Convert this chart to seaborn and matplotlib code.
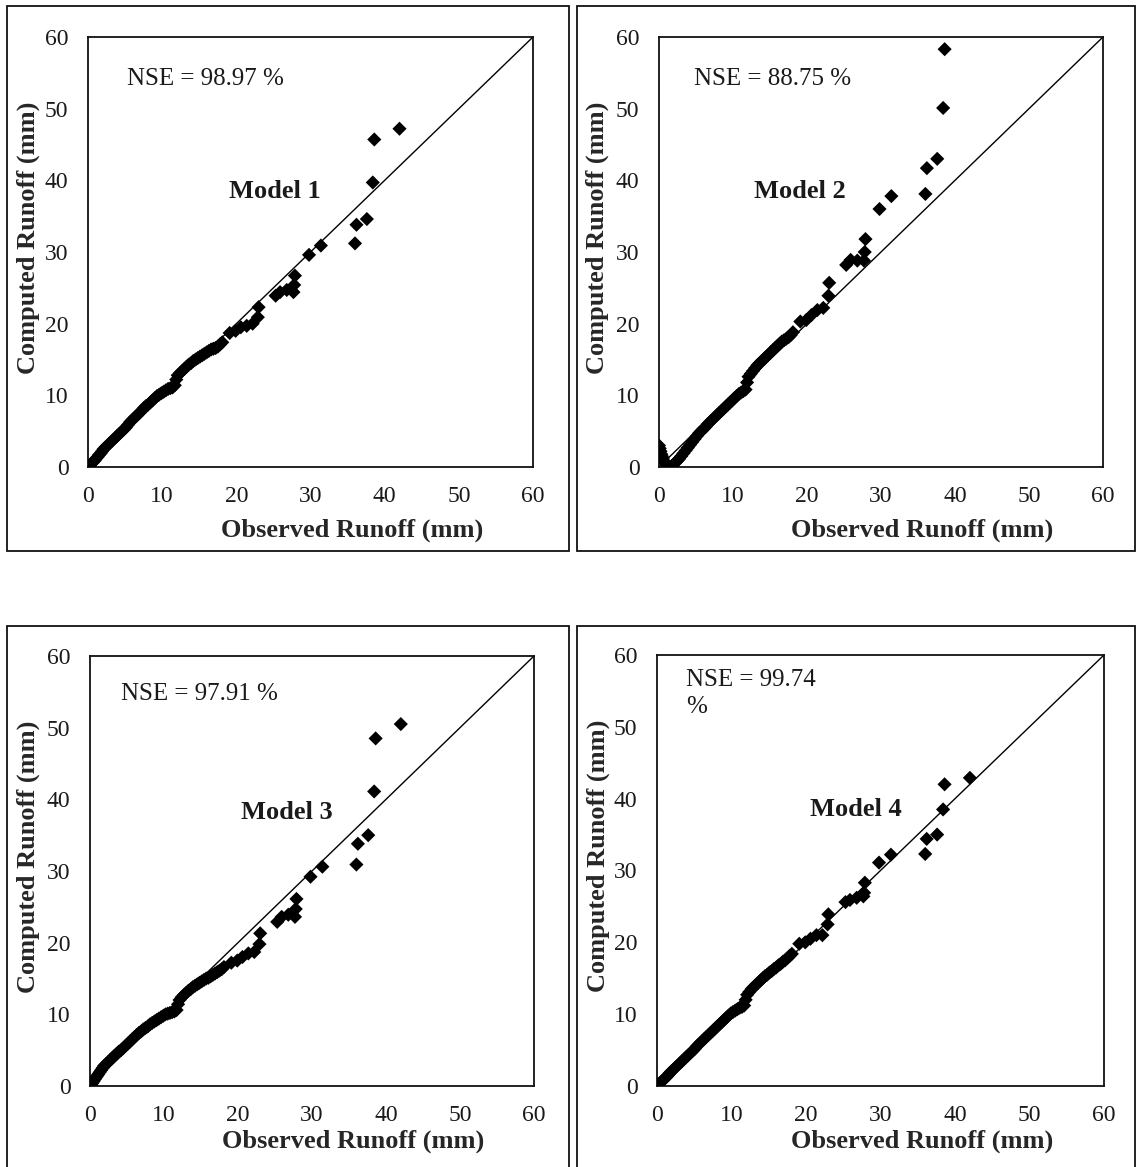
import numpy as np
import pandas as pd
import matplotlib
matplotlib.use("Agg")
import matplotlib.pyplot as plt
from matplotlib.patches import Rectangle
import seaborn as sns

# Observed runoff events (mm), shared by all four models
observed = [
    0.0, 0.1, 0.2, 0.3, 0.4, 0.5, 0.7, 0.9, 1.1, 1.3, 1.5, 1.7, 1.9, 2.1, 2.4, 2.7,
    3.0, 3.3, 3.6, 3.9, 4.2, 4.5, 4.8, 5.1, 5.4, 5.7, 6.0, 6.3, 6.6, 6.9, 7.2, 7.5,
    7.8, 8.1, 8.4, 8.7, 9.0, 9.3, 9.6, 9.9, 10.2, 10.5, 10.8, 11.1, 11.4, 11.7, 11.9,
    12.1, 12.4, 12.7, 13.0, 13.3, 13.6, 13.9, 14.2, 14.5, 14.8, 15.1, 15.4, 15.7,
    16.0, 16.3, 16.6, 16.9, 17.2, 17.5, 17.8, 18.1,
    19.1, 19.9, 20.6, 21.4, 22.2, 22.9, 23.0, 25.3, 25.9, 26.8, 27.7, 27.8, 27.9,
    29.8, 31.4, 36.0, 36.2, 37.6, 38.4, 38.6, 42.0,
]

# Computed runoff (mm) for each model, in the same event order
model1 = [
    0.0, 0.1, 0.2, 0.3, 0.4, 0.5, 0.7, 0.9, 1.2, 1.4, 1.7, 1.9, 2.2, 2.5, 2.8, 3.1,
    3.4, 3.7, 4.0, 4.3, 4.6, 4.9, 5.2, 5.5, 5.9, 6.3, 6.6, 6.9, 7.2, 7.5, 7.8, 8.2,
    8.5, 8.7, 9.0, 9.3, 9.6, 9.9, 10.1, 10.3, 10.5, 10.7, 10.9, 11.0, 11.1, 11.4, 12.2,
    12.8, 13.1, 13.4, 13.7, 14.0, 14.3, 14.5, 14.8, 15.0, 15.2, 15.4, 15.6, 15.8,
    16.0, 16.2, 16.4, 16.5, 16.6, 16.8, 17.1, 17.4,
    18.7, 19.0, 19.5, 19.7, 20.0, 20.9, 22.3, 23.9, 24.4, 24.7, 24.4, 25.4, 26.7,
    29.6, 30.9, 31.2, 33.8, 34.6, 39.7, 45.7, 47.2,
]
model2 = [
    3.0, 2.6, 2.2, 1.8, 1.5, 1.2, 0.8, 0.5, 0.2, 0.05, 0.0, 0.1, 0.3, 0.5, 0.8, 1.1,
    1.5, 1.9, 2.3, 2.7, 3.1, 3.5, 3.9, 4.3, 4.7, 5.0, 5.3, 5.6, 6.0, 6.3, 6.6, 6.9,
    7.2, 7.5, 7.8, 8.1, 8.4, 8.7, 9.0, 9.3, 9.6, 9.9, 10.2, 10.4, 10.6, 10.8, 11.8,
    12.6, 13.0, 13.4, 13.8, 14.2, 14.5, 14.8, 15.1, 15.4, 15.7, 16.0, 16.3, 16.6,
    16.9, 17.2, 17.5, 17.7, 17.9, 18.1, 18.4, 18.8,
    20.3, 20.5, 21.2, 21.9, 22.2, 23.9, 25.7, 28.2, 28.9, 28.8, 28.8, 30.0, 31.8,
    36.0, 37.8, 38.1, 41.7, 43.0, 50.1, 58.3, 62.5,
]
model3 = [
    0.0, 0.1, 0.3, 0.4, 0.6, 0.7, 1.0, 1.3, 1.6, 1.9, 2.2, 2.5, 2.8, 3.0, 3.3, 3.6,
    3.9, 4.2, 4.5, 4.8, 5.0, 5.3, 5.6, 5.9, 6.2, 6.5, 6.8, 7.1, 7.4, 7.6, 7.9, 8.1,
    8.3, 8.6, 8.8, 9.0, 9.2, 9.4, 9.6, 9.8, 10.0, 10.1, 10.2, 10.3, 10.4, 10.6, 11.4,
    12.0, 12.4, 12.7, 13.0, 13.3, 13.5, 13.8, 14.0, 14.2, 14.4, 14.6, 14.8, 15.0,
    15.1, 15.3, 15.5, 15.7, 15.9, 16.1, 16.3, 16.6,
    17.2, 17.5, 18.0, 18.5, 18.7, 19.8, 21.3, 22.9, 23.6, 23.9, 23.6, 24.7, 26.1,
    29.2, 30.6, 30.9, 33.8, 35.0, 41.1, 48.5, 50.5,
]
model4 = [
    0.0, 0.1, 0.2, 0.3, 0.4, 0.5, 0.7, 0.9, 1.1, 1.3, 1.5, 1.8, 2.0, 2.2, 2.5, 2.8,
    3.1, 3.4, 3.7, 4.0, 4.3, 4.6, 4.9, 5.2, 5.6, 5.9, 6.2, 6.5, 6.8, 7.1, 7.4, 7.7,
    8.0, 8.3, 8.6, 8.9, 9.2, 9.5, 9.8, 10.1, 10.3, 10.5, 10.7, 10.9, 11.0, 11.2, 12.0,
    12.7, 13.1, 13.5, 13.8, 14.1, 14.4, 14.7, 15.0, 15.3, 15.5, 15.8, 16.0, 16.3,
    16.5, 16.8, 17.0, 17.3, 17.5, 17.8, 18.1, 18.4,
    19.8, 20.0, 20.5, 21.0, 21.0, 22.5, 23.9, 25.6, 25.9, 26.2, 26.4, 26.9, 28.3,
    31.1, 32.2, 32.3, 34.4, 35.0, 38.5, 42.0, 42.9,
]

model_names = ["Model 1", "Model 2", "Model 3", "Model 4"]
nse_labels = ["NSE = 98.97 %", "NSE = 88.75 %", "NSE = 97.91 %", "NSE = 99.74\n%"]
tick_values = [0, 10, 20, 30, 40, 50, 60]

frames = []
for name, comp in zip(model_names, [model1, model2, model3, model4]):
    frames.append(pd.DataFrame({"Observed": observed, "Computed": comp, "Model": name}))
df = pd.concat(frames, ignore_index=True)

sns.set_theme(style="white")
plt.rcParams["font.family"] = ["Liberation Serif", "DejaVu Serif"]
plt.rcParams["text.color"] = "#1a1a1a"

W, H = 1137, 1167
fig = plt.figure(figsize=(W / 100, H / 100), dpi=100)
fig.patch.set_facecolor("white")

# axes rectangles in pixel units: (left, top, right, bottom)
axes_px = [(88, 37, 533, 467), (659, 37, 1103, 467),
           (90, 656, 534, 1086), (657, 655, 1104, 1086)]
# outer chart-area borders in pixel units
frame_px = [(7, 6, 569, 551), (577, 6, 1135, 551),
            (7, 626, 569, 1175), (577, 626, 1135, 1175)]
nse_pos = [(5.2, 54.1), (4.7, 54.1), (4.2, 54.7), (3.9, 54.6)]
model_pos = [(25.2, 38.5), (19.0, 38.5), (26.6, 38.2), (26.7, 38.5)]
ylab_x = [-0.135, -0.14, -0.14, -0.132]
xlab_y = [-0.147, -0.147, -0.128, -0.128]

for (fl, ft, fr, fb) in frame_px:
    fig.patches.append(Rectangle((fl / W, 1 - fb / H), (fr - fl) / W, (fb - ft) / H,
                                 transform=fig.transFigure, fill=False,
                                 edgecolor="#111111", linewidth=1.3))

for i, name in enumerate(model_names):
    l, t, r, b = axes_px[i]
    ax = fig.add_axes([l / W, 1 - b / H, (r - l) / W, (b - t) / H])
    sub = df[df["Model"] == name]
    ax.plot([0, 60], [0, 60], color="black", lw=1.0, zorder=1)
    sns.scatterplot(data=sub, x="Observed", y="Computed", ax=ax, marker="D",
                    s=52, color="black", edgecolor="none", linewidth=0, zorder=3,
                    legend=False)
    ax.set_xlim(0, 60)
    ax.set_ylim(0, 60)
    ax.set_xticks(tick_values)
    ax.set_yticks(tick_values)
    ax.tick_params(length=0, pad=14, labelsize=17, colors="#1a1a1a")
    for sp in ax.spines.values():
        sp.set_visible(True)
        sp.set_color("#111111")
        sp.set_linewidth(1.3)
    ax.set_xlabel("Observed Runoff (mm)", fontsize=19, fontweight="bold")
    ax.set_ylabel("Computed Runoff (mm)", fontsize=19, fontweight="bold")
    ax.xaxis.label.set_va("center")
    ax.yaxis.label.set_va("center")
    ax.xaxis.set_label_coords(0.593, xlab_y[i])
    ax.yaxis.set_label_coords(ylab_x[i], 0.533)
    ax.text(*nse_pos[i], nse_labels[i], fontsize=18, ha="left", va="center",
            linespacing=1.3)
    ax.text(*model_pos[i], name, fontsize=19, fontweight="bold", ha="center",
            va="center")
    ax.set_facecolor("none")

fig.savefig("out.png", dpi=100, facecolor="white")
